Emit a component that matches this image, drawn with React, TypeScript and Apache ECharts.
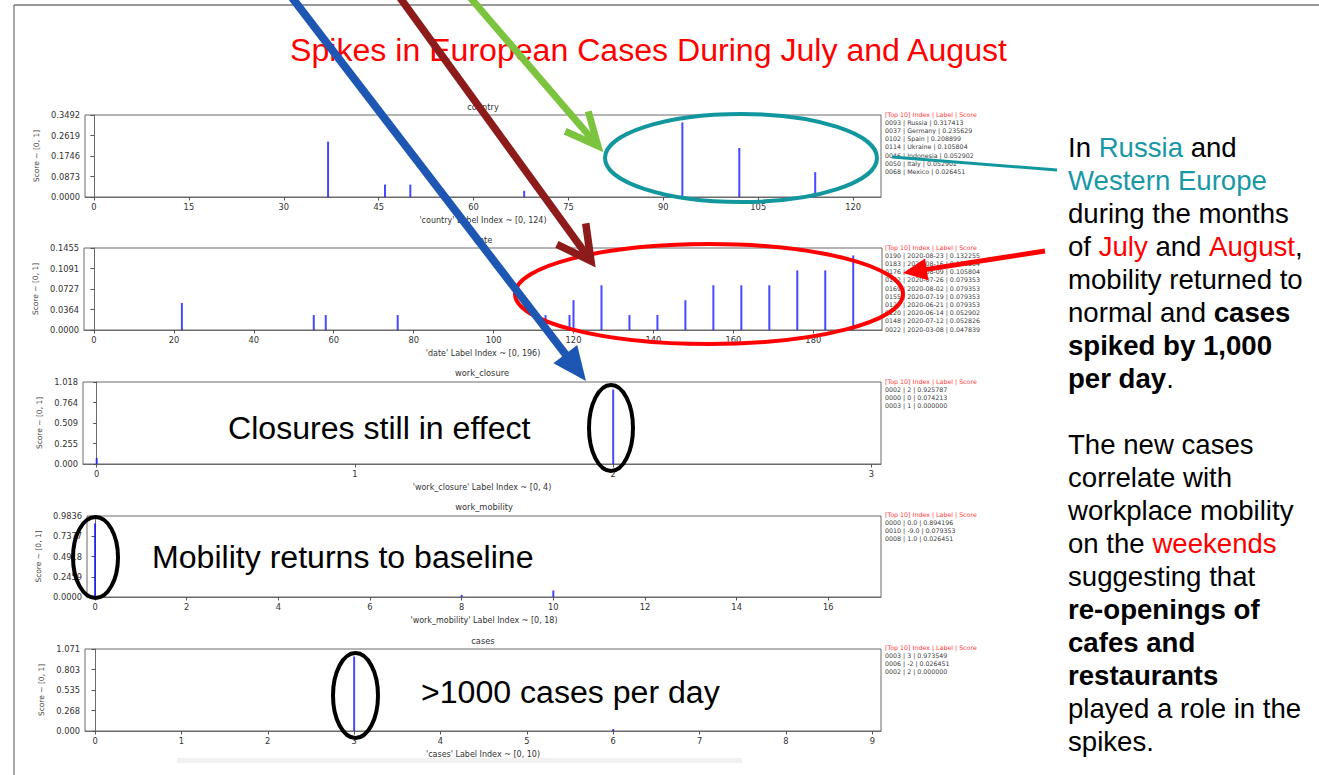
import React, { useEffect, useRef } from "react";
import * as echarts from "echarts";

// ---------------- data ----------------
const countryIndex = [93, 37, 102, 114, 46, 50, 68];
const countryLabel = ["Russia", "Germany", "Spain", "Ukraine", "Indonesia", "Italy", "Mexico"];
const countryScore = [0.317413, 0.235629, 0.208899, 0.105804, 0.052902, 0.052902, 0.026451];
const countryTicks = [0, 15, 30, 45, 60, 75, 90, 105, 120];

const dateIndex = [190, 183, 176, 162, 169, 155, 127, 120, 148, 22];
const dateLabel = ["2020-08-23", "2020-08-16", "2020-08-09", "2020-07-26", "2020-08-02", "2020-07-19", "2020-06-21", "2020-06-14", "2020-07-12", "2020-03-08"];
const dateScore = [0.132255, 0.105804, 0.105804, 0.079353, 0.079353, 0.079353, 0.079353, 0.052902, 0.052826, 0.047839];
const dateOtherIndex = [55, 58, 76, 113, 119, 134, 141];
const dateOtherScore = [0.026451, 0.026451, 0.026451, 0.026451, 0.026451, 0.026451, 0.026451];
const dateTicks = [0, 20, 40, 60, 80, 100, 120, 140, 160, 180];

const closureIndex = [2, 0, 3];
const closureLabel = ["2", "0", "1"];
const closureScore = [0.925787, 0.074213, 0.0];
const closureTicks = [0, 1, 2, 3];

const mobilityIndex = [0, 10, 8];
const mobilityLabel = ["0.0", "-9.0", "1.0"];
const mobilityScore = [0.894196, 0.079353, 0.026451];
const mobilityTicks = [0, 2, 4, 6, 8, 10, 12, 14, 16];

const casesIndex = [3, 6, 2];
const casesLabel = ["3", "-2", "2"];
const casesScore = [0.973549, 0.026451, 0.0];
const casesTicks = [0, 1, 2, 3, 4, 5, 6, 7, 8, 9];

const featureNames = ["country", "date", "work_closure", "work_mobility", "cases"];
const labelCounts = [124, 196, 4, 18, 10];

const slideTitle = "Spikes in European Cases During July and August";
const calloutClosure = "Closures still in effect";
const calloutMobility = "Mobility returns to baseline";
const calloutCases = ">1000 cases per day";

// ---------------- layout / style ----------------
const layout = [
  { left: 85, top: 115, right: 881, bottom: 197, xMin: -1.42, xMax: 124.4, dec: 4, nameGap: 41, titleY: 107, listY: 114 },
  { left: 84, top: 248, right: 882, bottom: 330, xMin: -2.5, xMax: 197.2, dec: 4, nameGap: 39, titleY: 240, listY: 247 },
  { left: 83, top: 382, right: 881, bottom: 464, xMin: -0.053, xMax: 3.037, dec: 3, nameGap: 34, titleY: 373, listY: 381 },
  { left: 87, top: 516, right: 881, bottom: 597, xMin: -0.175, xMax: 17.15, dec: 4, nameGap: 43, titleY: 507, listY: 514 },
  { left: 85, top: 649, right: 881, bottom: 731, xMin: -0.116, xMax: 9.1, dec: 3, nameGap: 36, titleY: 641, listY: 647 },
];

const SANS = "'Liberation Sans', Arial, Helvetica, sans-serif";
const MPL = "'DejaVu Sans', sans-serif";
const RED = "#ff0000";
const TEAL = "#1898a6";
const BAR = "rgba(20,20,255,0.78)";
const BODY_FS = 27.6;

const panels = [
  { idx: countryIndex, score: countryScore, label: countryLabel, ticks: countryTicks, extraIdx: [], extraScore: [] },
  { idx: dateIndex, score: dateScore, label: dateLabel, ticks: dateTicks, extraIdx: dateOtherIndex, extraScore: dateOtherScore },
  { idx: closureIndex, score: closureScore, label: closureLabel, ticks: closureTicks, extraIdx: [], extraScore: [] },
  { idx: mobilityIndex, score: mobilityScore, label: mobilityLabel, ticks: mobilityTicks, extraIdx: [], extraScore: [] },
  { idx: casesIndex, score: casesScore, label: casesLabel, ticks: casesTicks, extraIdx: [], extraScore: [] },
];

type Seg = [string, string];
const rightText: (Seg[] | null)[] = [
  [["In ", "n"], ["Russia", "t"], [" and", "n"]],
  [["Western Europe", "t"]],
  [["during the months", "n"]],
  [["of ", "n"], ["July", "r"], [" and ", "n"], ["August", "r"], [",", "n"]],
  [["mobility returned to", "n"]],
  [["normal and ", "n"], ["cases", "b"]],
  [["spiked by 1,000", "b"]],
  [["per day", "b"], [".", "n"]],
  null,
  [["The new cases", "n"]],
  [["correlate with", "n"]],
  [["workplace mobility", "n"]],
  [["on the ", "n"], ["weekends", "r"]],
  [["suggesting that", "n"]],
  [["re-openings of", "b"]],
  [["cafes and", "b"]],
  [["restaurants", "b"]],
  [["played a role in the", "n"]],
  [["spikes.", "n"]],
];

function filledArrow(x1: number, y1: number, x2: number, y2: number, color: string, width: number, headLen: number, headHalf: number) {
  const dx = x2 - x1, dy = y2 - y1, L = Math.hypot(dx, dy);
  const ux = dx / L, uy = dy / L, nx = -uy, ny = ux;
  const bx = x2 - ux * headLen, by = y2 - uy * headLen;
  return [
    { type: "line", z: 100, shape: { x1, y1, x2: bx + ux * 2, y2: by + uy * 2 }, style: { stroke: color, lineWidth: width } },
    {
      type: "polygon", z: 100,
      shape: { points: [[x2, y2], [bx + nx * headHalf, by + ny * headHalf], [bx - nx * headHalf, by - ny * headHalf]] },
      style: { fill: color },
    },
  ];
}

function chevronArrow(x1: number, y1: number, x2: number, y2: number, color: string, width: number, armLen: number, angleDeg: number) {
  const a = Math.atan2(y1 - y2, x1 - x2);
  const r = (angleDeg * Math.PI) / 180;
  const p1 = [x2 + armLen * Math.cos(a + r), y2 + armLen * Math.sin(a + r)];
  const p2 = [x2 + armLen * Math.cos(a - r), y2 + armLen * Math.sin(a - r)];
  const dx = x2 - x1, dy = y2 - y1, L = Math.hypot(dx, dy);
  return [
    { type: "line", z: 100, shape: { x1, y1, x2: x2 - (dx / L) * 3, y2: y2 - (dy / L) * 3 }, style: { stroke: color, lineWidth: width } },
    { type: "polyline", z: 100, shape: { points: [p1, [x2, y2], p2] }, style: { stroke: color, lineWidth: width, fill: "none", lineJoin: "miter", lineCap: "butt" } },
  ];
}

export default function App() {
  const ref = useRef<HTMLDivElement>(null);

  useEffect(() => {
    if (!ref.current) return;
    const chart = echarts.init(ref.current, undefined, { renderer: "svg" });

    const grids: any[] = [];
    const xAxes: any[] = [];
    const yAxes: any[] = [];
    const series: any[] = [];
    const graphics: any[] = [];

    panels.forEach((p, i) => {
      const g = layout[i];
      const yMax = 1.1 * Math.max(...p.score);
      const yTicks = [0, 1, 2, 3, 4].map((k) => (yMax * k) / 4);
      grids.push({
        left: g.left, top: g.top, width: g.right - g.left, height: g.bottom - g.top,
        show: true, borderColor: "#6a6a6a", borderWidth: 1, backgroundColor: "transparent",
        outerBoundsMode: "none", containLabel: false,
      });
      xAxes.push({
        type: "value", gridIndex: i, min: g.xMin, max: g.xMax,
        axisLine: { show: true, onZero: false, lineStyle: { color: "#6a6a6a", width: 1 } },
        axisTick: { show: true, length: 3.5, customValues: p.ticks, lineStyle: { color: "#555" } },
        axisLabel: { customValues: p.ticks, fontSize: 8.3, color: "#333", margin: 6, fontFamily: MPL },
        splitLine: { show: false },
        name: `'${featureNames[i]}' Label Index ~ [0, ${labelCounts[i]})`,
        nameLocation: "middle", nameGap: 19,
        nameTextStyle: { fontSize: 8, color: "#333", fontFamily: MPL },
      });
      yAxes.push({
        type: "value", gridIndex: i, min: 0, max: yMax,
        axisLine: { show: true, lineStyle: { color: "#6a6a6a", width: 1 } },
        axisTick: { show: true, length: 3.5, customValues: yTicks, lineStyle: { color: "#555" } },
        axisLabel: { customValues: yTicks, fontSize: 8.3, color: "#333", margin: 5, fontFamily: MPL, formatter: (v: number) => v.toFixed(g.dec) },
        splitLine: { show: false },
        name: "Score ~ [0, 1]", nameLocation: "middle", nameGap: g.nameGap, nameRotate: 90,
        nameTextStyle: { fontSize: 7.5, color: "#444", fontFamily: MPL },
      });
      const data = p.idx.map((x, k) => [x, p.score[k]]).concat(p.extraIdx.map((x, k) => [x, p.extraScore[k]]));
      series.push({
        type: "bar", xAxisIndex: i, yAxisIndex: i, data, barWidth: 2, silent: true,
        itemStyle: { color: BAR },
      });
      // subplot title
      graphics.push({
        type: "text", z: 50, x: (g.left + g.right) / 2, y: g.titleY,
        style: { text: featureNames[i], fontSize: 8.3, fill: "#333", fontFamily: MPL, align: "center", verticalAlign: "middle" },
      });
      // top-10 list
      graphics.push({
        type: "text", z: 50, x: 885, y: g.listY,
        style: { text: "[Top 10] Index | Label | Score", fontSize: 6.3, fill: "#ff3b3b", fontFamily: MPL, align: "left", verticalAlign: "middle" },
      });
      const rows = p.idx.map((x, k) => `${String(x).padStart(4, "0")} | ${p.label[k]} | ${p.score[k].toFixed(6)}`);
      graphics.push({
        type: "text", z: 50, x: 885, y: g.listY + 4.2,
        style: { text: rows.join("\n"), fontSize: 6.3, lineHeight: 8.2, fill: "#3a3a3a", fontFamily: MPL, align: "left", verticalAlign: "top" },
      });
    });

    // slide frame
    graphics.push({ type: "line", z: 10, shape: { x1: 14, y1: 5, x2: 1319, y2: 5 }, style: { stroke: "#333", lineWidth: 1.2 } });
    graphics.push({ type: "line", z: 10, shape: { x1: 14, y1: 5, x2: 14, y2: 775 }, style: { stroke: "#555", lineWidth: 1 } });
    graphics.push({ type: "rect", z: 10, shape: { x: 177, y: 758, width: 565, height: 5 }, style: { fill: "#f1f1f1" } });

    // slide title
    graphics.push({
      type: "text", z: 60, x: 648.5, y: 50,
      style: { text: slideTitle, fontSize: 32.1, fill: RED, fontFamily: SANS, align: "center", verticalAlign: "middle" },
    });

    // callouts
    graphics.push({ type: "text", z: 60, x: 228, y: 428, style: { text: calloutClosure, fontSize: 32.1, fill: "#000", fontFamily: SANS, align: "left", verticalAlign: "middle" } });
    graphics.push({ type: "text", z: 60, x: 152, y: 557, style: { text: calloutMobility, fontSize: 32.1, fill: "#000", fontFamily: SANS, align: "left", verticalAlign: "middle" } });
    graphics.push({ type: "text", z: 60, x: 421, y: 692, style: { text: calloutCases, fontSize: 32.1, fill: "#000", fontFamily: SANS, align: "left", verticalAlign: "middle" } });

    // right text block
    const rich: any = {
      n: { fontSize: BODY_FS, fill: "#000", fontFamily: SANS, fontWeight: "normal" },
      b: { fontSize: BODY_FS, fill: "#000", fontFamily: SANS, fontWeight: "bold" },
      t: { fontSize: BODY_FS, fill: TEAL, fontFamily: SANS, fontWeight: "normal" },
      r: { fontSize: BODY_FS, fill: RED, fontFamily: SANS, fontWeight: "normal" },
    };
    rightText.forEach((line, i) => {
      if (!line) return;
      const text = line.map(([s, k]) => `{${k}|${s}}`).join("");
      graphics.push({
        type: "text", z: 60, x: 1068, y: 147 + 33 * i,
        style: { text, rich, fontSize: BODY_FS, fontFamily: SANS, align: "left", verticalAlign: "middle" },
      });
    });

    // ellipses
    const ell = (cx: number, cy: number, rx: number, ry: number, stroke: string, lw: number) => ({
      type: "ellipse", z: 90, shape: { cx, cy, rx, ry }, style: { fill: "none", stroke, lineWidth: lw },
    });
    graphics.push(ell(741, 158, 136, 44, "#12979f", 4));
    graphics.push(ell(709, 294, 194, 50, RED, 4));
    graphics.push(ell(611, 428, 22, 43, "#000", 4));
    graphics.push(ell(95.5, 557.5, 22.5, 40.5, "#000", 4));
    graphics.push(ell(355.5, 695.5, 22.5, 42.5, "#000", 4));

    // arrows
    graphics.push(...filledArrow(290, -5, 586, 381, "#1d57b3", 8, 34, 15));
    graphics.push(...chevronArrow(398, -5, 591, 261, "#8e1b1b", 7.5, 38, 28));
    graphics.push(...chevronArrow(468, -5, 598, 146, "#7cc33e", 7, 36, 25));
    graphics.push({ type: "line", z: 100, shape: { x1: 892, y1: 157, x2: 1057, y2: 170 }, style: { stroke: "#12979f", lineWidth: 3 } });
    graphics.push(...filledArrow(1045, 251, 903, 273, RED, 5, 24, 11));

    chart.setOption({
      animation: false,
      grid: grids,
      xAxis: xAxes,
      yAxis: yAxes,
      series,
      graphic: { elements: graphics },
    });

    return () => chart.dispose();
  }, []);

  return (
    <div
      ref={ref}
      style={{ position: "absolute", left: 0, top: 0, width: 1319, height: 775, background: "#fff" }}
    />
  );
}
